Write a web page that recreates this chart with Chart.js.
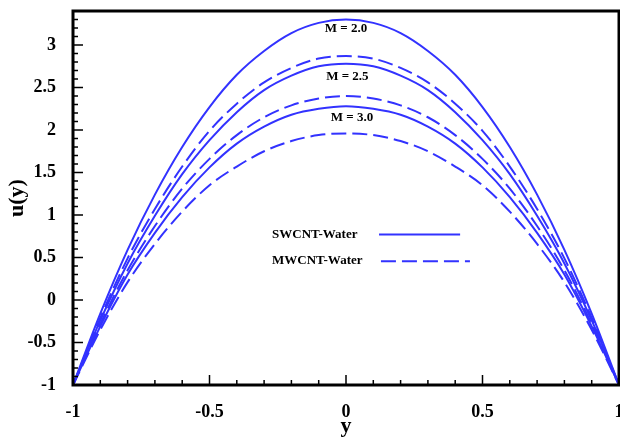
<!DOCTYPE html>
<html>
<head>
<meta charset="utf-8">
<script src="https://cdn.jsdelivr.net/npm/chart.js@4.4.1/dist/chart.umd.min.js"></script>
<style>
  body { margin: 0; background: #fff; }
</style>
</head>
<body>
<canvas id="velocityChart" width="620" height="440"></canvas>
<script>
// y positions across the channel
const yPos = [-1, -0.9, -0.8, -0.7, -0.6, -0.5, -0.4, -0.3, -0.2, -0.1, 0,
  0.1, 0.2, 0.3, 0.4, 0.5, 0.6, 0.7, 0.8, 0.9, 1];

// SWCNT-Water (solid)
const swM20 = [-1, -0.16, 0.59, 1.24, 1.80, 2.27, 2.65, 2.93, 3.14, 3.26, 3.30,
  3.26, 3.14, 2.93, 2.65, 2.27, 1.80, 1.24, 0.59, -0.16, -1];
const swM25 = [-1, -0.24, 0.43, 0.99, 1.48, 1.88, 2.21, 2.47, 2.64, 2.75, 2.78,
  2.75, 2.64, 2.47, 2.21, 1.88, 1.48, 0.99, 0.43, -0.24, -1];
const swM30 = [-1, -0.31, 0.30, 0.79, 1.21, 1.56, 1.84, 2.04, 2.18, 2.25, 2.28,
  2.25, 2.18, 2.04, 1.84, 1.56, 1.21, 0.79, 0.30, -0.31, -1];

// MWCNT-Water (dashed)
const mwM20 = [-1, -0.21, 0.49, 1.07, 1.57, 1.99, 2.31, 2.56, 2.73, 2.84, 2.87,
  2.84, 2.73, 2.56, 2.31, 1.99, 1.57, 1.07, 0.49, -0.21, -1];
const mwM25 = [-1, -0.28, 0.35, 0.87, 1.31, 1.66, 1.94, 2.15, 2.29, 2.37, 2.40,
  2.37, 2.29, 2.15, 1.94, 1.66, 1.31, 0.87, 0.35, -0.28, -1];
const mwM30 = [-1, -0.35, 0.21, 0.66, 1.04, 1.35, 1.57, 1.75, 1.87, 1.94, 1.96,
  1.94, 1.87, 1.75, 1.57, 1.35, 1.04, 0.66, 0.21, -0.35, -1];

const xTicks = [-1, -0.5, 0, 0.5, 1];
const yTicks = [-1, -0.5, 0, 0.5, 1, 1.5, 2, 2.5, 3];

const mLabels = ["M = 2.0", "M = 2.5", "M = 3.0"];
const legendNames = ["SWCNT-Water", "MWCNT-Water"];

const blue = "rgb(50, 50, 255)";
const serif = "'Liberation Serif', 'Times New Roman', serif";

function series(values, dashed) {
  return {
    data: yPos.map((x, i) => ({ x: x, y: values[i] })),
    borderColor: blue,
    borderWidth: 2,
    borderDash: dashed ? [15, 6] : [],
    pointRadius: 0,
    fill: false,
    cubicInterpolationMode: "monotone",
  };
}

// frame, inward ticks, legend and M labels
const decor = {
  id: "decor",
  afterDraw(chart) {
    const { ctx, chartArea: a, scales } = chart;
    const x = scales.x;
    const y = scales.y;
    ctx.save();
    ctx.strokeStyle = "#000";
    ctx.lineWidth = 1.5;
    ctx.beginPath();
    for (let i = -10; i <= 10; i++) {
      const px = x.getPixelForValue(i / 10);
      const len = i % 5 === 0 ? 10 : 5;
      ctx.moveTo(px, a.bottom);
      ctx.lineTo(px, a.bottom - len);
    }
    for (let i = -10; i <= 34; i++) {
      const py = y.getPixelForValue(i / 10);
      const len = i % 5 === 0 ? 10 : 5;
      ctx.moveTo(a.left, py);
      ctx.lineTo(a.left + len, py);
    }
    ctx.stroke();
    ctx.lineWidth = 3;
    ctx.strokeRect(a.left, a.top, a.right - a.left, a.bottom - a.top);

    ctx.fillStyle = "#000";
    ctx.font = "bold 13px " + serif;
    ctx.textBaseline = "middle";
    ctx.textAlign = "center";
    ctx.fillText(mLabels[0], x.getPixelForValue(0), y.getPixelForValue(3.19));
    ctx.fillText(mLabels[1], x.getPixelForValue(0.005), y.getPixelForValue(2.63));
    ctx.fillText(mLabels[2], x.getPixelForValue(0.022), y.getPixelForValue(2.14));

    ctx.textAlign = "left";
    ctx.fillText(legendNames[0], x.getPixelForValue(-0.271), y.getPixelForValue(0.77));
    ctx.fillText(legendNames[1], x.getPixelForValue(-0.271), y.getPixelForValue(0.46));

    ctx.strokeStyle = blue;
    ctx.lineWidth = 2;
    ctx.beginPath();
    ctx.moveTo(x.getPixelForValue(0.121), y.getPixelForValue(0.77));
    ctx.lineTo(x.getPixelForValue(0.418), y.getPixelForValue(0.77));
    ctx.stroke();
    ctx.setLineDash([15, 6]);
    ctx.beginPath();
    ctx.moveTo(x.getPixelForValue(0.128), y.getPixelForValue(0.455));
    ctx.lineTo(x.getPixelForValue(0.454), y.getPixelForValue(0.455));
    ctx.stroke();
    ctx.restore();
  },
};

new Chart(document.getElementById("velocityChart"), {
  type: "line",
  data: {
    datasets: [
      series(swM20, false),
      series(mwM20, true),
      series(swM25, false),
      series(mwM25, true),
      series(swM30, false),
      series(mwM30, true),
    ],
  },
  options: {
    responsive: false,
    animation: false,
    layout: { padding: { top: 11, right: 1, left: 0, bottom: 0 } },
    plugins: { legend: { display: false }, tooltip: { enabled: false } },
    scales: {
      x: {
        type: "linear",
        min: -1,
        max: 1,
        grid: { display: false },
        border: { display: false },
        afterBuildTicks: (scale) => {
          scale.ticks = xTicks.map((v) => ({ value: v }));
        },
        afterFit: (scale) => {
          scale.height = 55;
          scale.paddingLeft = 0;
          scale.paddingRight = 0;
        },
        ticks: {
          color: "#000",
          padding: 9,
          font: { family: serif, size: 18, weight: "bold" },
          callback: (v) => String(v),
        },
        title: {
          display: true,
          text: "y",
          color: "#000",
          padding: { top: 0, bottom: 0 },
          font: { family: serif, size: 22, weight: "bold" },
        },
      },
      y: {
        type: "linear",
        min: -1,
        max: 3.4,
        grid: { display: false },
        border: { display: false },
        afterBuildTicks: (scale) => {
          scale.ticks = yTicks.map((v) => ({ value: v }));
        },
        afterFit: (scale) => {
          scale.width = 73;
          scale.paddingTop = 0;
          scale.paddingBottom = 0;
        },
        ticks: {
          color: "#000",
          padding: 9,
          font: { family: serif, size: 18, weight: "bold" },
          callback: (v) => String(v),
        },
        title: {
          display: true,
          text: "u(y)",
          color: "#000",
          padding: { top: 4, bottom: 0 },
          font: { family: serif, size: 22, weight: "bold" },
        },
      },
    },
  },
  plugins: [decor],
});
</script>
</body>
</html>
